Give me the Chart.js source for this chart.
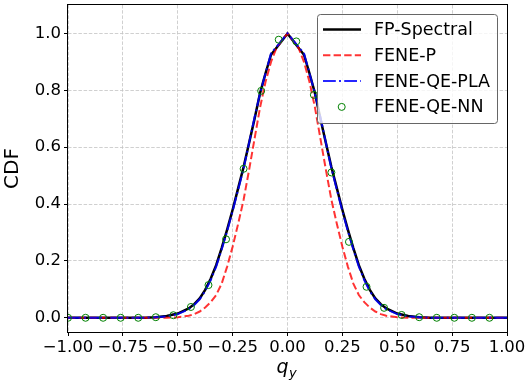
<!DOCTYPE html>
<html>
<head>
<meta charset="utf-8">
<script src="https://cdn.jsdelivr.net/npm/chart.js@4/dist/chart.umd.min.js"></script>
<style>
html, body { margin: 0; padding: 0; background: #fff; }
</style>
</head>
<body>
<canvas id="cdf" width="528" height="385"></canvas>
<script>
// grid of q_y for the three curves
var qLine = [-1.0, -0.7, -0.65, -0.6, -0.55, -0.5, -0.45, -0.425, -0.4, -0.375, -0.35, -0.325, -0.3, -0.275, -0.25, -0.225, -0.2, -0.175, -0.15, -0.125, -0.1, -0.075, -0.05,
    0.0,
    0.05, 0.075, 0.1, 0.125, 0.15, 0.175, 0.2, 0.225, 0.25, 0.275, 0.3, 0.325, 0.35, 0.375, 0.4, 0.425, 0.45, 0.5, 0.55, 0.6, 0.65, 0.7, 1.0];

var fpSpectral = [0, 0, 0.0005, 0.002, 0.006, 0.015, 0.033, 0.048, 0.068, 0.098, 0.137, 0.185, 0.245, 0.31, 0.38, 0.455, 0.53, 0.615, 0.70, 0.79, 0.86, 0.925, 0.95,
    1.0,
    0.95, 0.925, 0.86, 0.79, 0.70, 0.615, 0.53, 0.455, 0.38, 0.31, 0.245, 0.185, 0.137, 0.098, 0.068, 0.048, 0.033, 0.015, 0.006, 0.002, 0.0005, 0, 0];

var feneP = [0, 0, 0, 0, 0, 0.002, 0.007, 0.013, 0.022, 0.036, 0.055, 0.08, 0.12, 0.18, 0.25, 0.33, 0.415, 0.52, 0.63, 0.74, 0.83, 0.90, 0.95,
    1.0,
    0.95, 0.90, 0.83, 0.74, 0.63, 0.52, 0.415, 0.33, 0.25, 0.18, 0.12, 0.08, 0.055, 0.036, 0.022, 0.013, 0.007, 0.002, 0, 0, 0, 0, 0];

var feneQePla = [0, 0, 0.0003, 0.0015, 0.005, 0.013, 0.03, 0.045, 0.065, 0.094, 0.132, 0.18, 0.24, 0.305, 0.375, 0.45, 0.525, 0.615, 0.705, 0.79, 0.86, 0.93, 0.953,
    1.0,
    0.953, 0.93, 0.86, 0.79, 0.705, 0.615, 0.525, 0.45, 0.375, 0.305, 0.24, 0.18, 0.132, 0.094, 0.065, 0.045, 0.03, 0.013, 0.005, 0.0015, 0.0003, 0, 0];

// FENE-QE-NN markers
var qNN = [-1.0, -0.92, -0.84, -0.76, -0.68, -0.60, -0.52, -0.44, -0.36, -0.28, -0.20, -0.12, -0.04,
    0.04, 0.12, 0.20, 0.28, 0.36, 0.44, 0.52, 0.60, 0.68, 0.76, 0.84, 0.92];
var feneQeNN = [0, 0, 0, 0, 0, 0.002, 0.009, 0.038, 0.115, 0.276, 0.524, 0.798, 0.978,
    0.972, 0.784, 0.511, 0.267, 0.109, 0.035, 0.010, 0.002, 0, 0, 0, 0];

var xTicks = [-1.0, -0.75, -0.5, -0.25, 0.0, 0.25, 0.5, 0.75, 1.0];
var yTicks = [0.0, 0.2, 0.4, 0.6, 0.8, 1.0];

var FONT = "'DejaVu Sans', sans-serif";

function pts(xs, ys) {
    return xs.map(function (x, i) { return { x: x, y: ys[i] }; });
}

// frame, axis titles and boxed legend the matplotlib way
var extras = {
    id: 'extras',
    afterDraw: function (chart) {
        var ctx = chart.ctx;
        var a = chart.chartArea;
        ctx.save();
        ctx.strokeStyle = '#000';
        ctx.lineWidth = 1;
        ctx.strokeRect(Math.round(a.left) - 0.5, Math.round(a.top) - 0.5,
            Math.round(a.right - a.left) + 1, Math.round(a.bottom - a.top) + 1);

        // y title
        ctx.fillStyle = '#000';
        ctx.save();
        ctx.translate(13, (a.top + a.bottom) / 2);
        ctx.rotate(-Math.PI / 2);
        ctx.font = "20px " + FONT;
        ctx.textAlign = 'center';
        ctx.textBaseline = 'middle';
        ctx.fillText('CDF', 0, 0);
        ctx.restore();

        // x title q_y
        ctx.textAlign = 'left';
        ctx.textBaseline = 'alphabetic';
        ctx.font = "italic 19px " + FONT;
        var cx = (a.left + a.right) / 2;
        ctx.fillText('q', cx - 11, 373);
        ctx.font = "italic 13px " + FONT;
        ctx.fillText('y', cx + 1.5, 377);

        // legend
        var lx = 317.5, ly = 14.5, lw = 180, lh = 109;
        ctx.beginPath();
        ctx.roundRect(lx, ly, lw, lh, 3);
        ctx.fillStyle = 'rgba(255,255,255,0.8)';
        ctx.fill();
        ctx.strokeStyle = '#666';
        ctx.lineWidth = 1;
        ctx.stroke();

        ctx.font = "17.5px " + FONT;
        ctx.textBaseline = 'middle';
        chart.data.datasets.forEach(function (ds, i) {
            var ry = 29.5 + i * 25.8;
            if (ds.showLine === false) {
                ctx.beginPath();
                ctx.arc(341.7, ry, ds.pointRadius, 0, Math.PI * 2);
                ctx.strokeStyle = ds.pointBorderColor;
                ctx.lineWidth = ds.pointBorderWidth;
                ctx.stroke();
            } else {
                ctx.beginPath();
                ctx.setLineDash(ds.borderDash || []);
                ctx.moveTo(323, ry);
                ctx.lineTo(361, ry);
                ctx.strokeStyle = ds.borderColor;
                ctx.lineWidth = ds.borderWidth;
                ctx.stroke();
                ctx.setLineDash([]);
            }
            ctx.fillStyle = '#000';
            ctx.fillText(ds.label, 374, ry + 1);
        });
        ctx.restore();
    }
};

new Chart(document.getElementById('cdf'), {
    type: 'scatter',
    data: {
        datasets: [{
            label: 'FP-Spectral',
            data: pts(qLine, fpSpectral),
            showLine: true,
            borderColor: '#000000',
            borderWidth: 2.5,
            pointRadius: 0,
            tension: 0,
            order: 3
        }, {
            label: 'FENE-P',
            data: pts(qLine, feneP),
            showLine: true,
            borderColor: 'rgba(255,0,0,0.8)',
            borderWidth: 2,
            borderDash: [7.4, 3.2],
            pointRadius: 0,
            tension: 0,
            order: 2
        }, {
            label: 'FENE-QE-PLA',
            data: pts(qLine, feneQePla),
            showLine: true,
            borderColor: 'rgba(0,0,255,0.85)',
            borderWidth: 2,
            borderDash: [12.8, 3.2, 2, 3.2],
            pointRadius: 0,
            tension: 0,
            order: 1
        }, {
            label: 'FENE-QE-NN',
            data: pts(qNN, feneQeNN),
            showLine: false,
            pointRadius: 3.5,
            pointBorderWidth: 1,
            pointBorderColor: '#008000',
            pointBackgroundColor: 'rgba(0,0,0,0)',
            order: 0
        }]
    },
    options: {
        responsive: false,
        animation: false,
        devicePixelRatio: 1,
        layout: { padding: { left: 0, top: 5, right: 21, bottom: 0 } },
        plugins: {
            legend: { display: false },
            tooltip: { enabled: false }
        },
        scales: {
            x: {
                type: 'linear',
                min: -1,
                max: 1,
                afterBuildTicks: function (s) { s.ticks = xTicks.map(function (v) { return { value: v }; }); },
                afterFit: function (s) { s.height = 53; s.paddingLeft = 0; s.paddingRight = 0; },
                grid: { color: '#c4c4c4', lineWidth: 0.8, tickColor: '#000', tickLength: 4, tickWidth: 1, tickBorderDash: [] },
                border: { display: false, dash: [3.5, 1.7] },
                ticks: {
                    autoSkip: false,
                    maxRotation: 0,
                    padding: 2,
                    color: '#000',
                    font: { family: FONT, size: 16.5 },
                    callback: function (v) { return Number(v).toFixed(2).replace('-', '\u2212'); }
                }
            },
            y: {
                type: 'linear',
                min: -0.05,
                max: 1.1,
                afterBuildTicks: function (s) { s.ticks = yTicks.map(function (v) { return { value: v }; }); },
                afterFit: function (s) { s.width = 68; s.paddingTop = 0; s.paddingBottom = 0; },
                grid: { color: '#c4c4c4', lineWidth: 0.8, tickColor: '#000', tickLength: 4, tickWidth: 1, tickBorderDash: [] },
                border: { display: false, dash: [3.5, 1.7] },
                ticks: {
                    autoSkip: false,
                    padding: 3,
                    color: '#000',
                    font: { family: FONT, size: 16.5 },
                    callback: function (v) { return Number(v).toFixed(1); }
                }
            }
        }
    },
    plugins: [extras]
});
</script>
</body>
</html>
